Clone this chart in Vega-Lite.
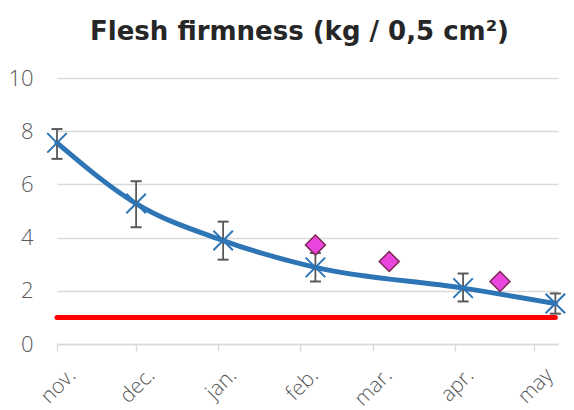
{
  "$schema": "https://vega.github.io/schema/vega-lite/v6.json",
  "width": 501,
  "height": 266,
  "autosize": {"type": "none"},
  "padding": {"left": 57, "top": 78, "right": 16, "bottom": 66},
  "background": "white",
  "title": {"text": "Flesh firmness (kg / 0,5 cm²)", "font": "DejaVu Sans", "fontSize": 26, "fontWeight": "bold", "color": "#262626", "anchor": "middle", "offset": 22, "dx": -8},
  "config": {
    "view": {"stroke": null},
    "axis": {"labelFont": "Open Sans", "labelFontSize": 22, "labelFontWeight": 300, "labelColor": "#595959"},
    "axisY": {"grid": true, "gridColor": "#D9D9D9", "gridWidth": 1.3, "domain": false, "ticks": false, "labelPadding": 24, "values": [0, 2, 4, 6, 8, 10]}
  },
  "datasets": {
    "main": [
      {"date": "2020-11-01", "v": 7.56, "lo": 6.96, "hi": 8.08},
      {"date": "2020-12-01", "v": 5.28, "lo": 4.39, "hi": 6.12},
      {"date": "2021-01-03", "v": 3.89, "lo": 3.17, "hi": 4.6},
      {"date": "2021-02-07", "v": 2.88, "lo": 2.35, "hi": 3.42},
      {"date": "2021-04-04", "v": 2.1, "lo": 1.6, "hi": 2.65},
      {"date": "2021-05-09", "v": 1.52, "lo": 1.14, "hi": 1.9}
    ],
    "other": [
      {"date": "2021-02-07", "v": 3.72},
      {"date": "2021-03-07", "v": 3.1},
      {"date": "2021-04-18", "v": 2.35}
    ],
    "threshold": [
      {"date": "2020-11-01", "v": 1},
      {"date": "2021-05-09", "v": 1}
    ]
  },
  "encoding": {
    "x": {
      "field": "date", "type": "temporal", "title": null,
      "scale": {"domain": [{"year": 2020, "month": 11, "date": 1, "utc": true}, {"year": 2021, "month": 5, "date": 10, "utc": true}]},
      "axis": {
        "values": [
          {"year": 2020, "month": 11, "date": 1, "utc": true},
          {"year": 2020, "month": 12, "date": 1, "utc": true},
          {"year": 2021, "month": 1, "date": 1, "utc": true},
          {"year": 2021, "month": 2, "date": 1, "utc": true},
          {"year": 2021, "month": 3, "date": 1, "utc": true},
          {"year": 2021, "month": 4, "date": 1, "utc": true},
          {"year": 2021, "month": 5, "date": 1, "utc": true}
        ],
        "labelExpr": "['jan.','feb.','mar.','apr.','may','jun.','jul.','aug.','sep.','oct.','nov.','dec.'][utcmonth(datum.value)]",
        "labelAngle": -45, "labelAlign": "right", "labelBaseline": "middle",
        "labelFontSize": 21,
        "labelPadding": 21, "labelOffset": 15,
        "grid": false, "domainColor": "#D9D9D9", "domainWidth": 1.3,
        "tickColor": "#D9D9D9", "tickSize": 7, "tickWidth": 1.3,
        "labelBound": false, "labelOverlap": false, "labelFlush": false
      }
    }
  },
  "layer": [
    {
      "data": {"name": "threshold"},
      "mark": {"type": "line", "color": "#FF0000", "strokeWidth": 5, "strokeCap": "round"},
      "encoding": {"y": {"field": "v", "type": "quantitative", "title": null, "scale": {"domain": [0, 10]}}}
    },
    {
      "data": {"name": "main"},
      "mark": {"type": "line", "color": "#2E75B6", "strokeWidth": 5, "interpolate": "monotone", "strokeCap": "round"},
      "encoding": {"y": {"field": "v", "type": "quantitative", "title": null}}
    },
    {
      "data": {"name": "main"},
      "mark": {"type": "rule", "color": "#595959", "strokeWidth": 1.8},
      "encoding": {"y": {"field": "lo", "type": "quantitative", "title": null}, "y2": {"field": "hi"}}
    },
    {
      "data": {"name": "main"},
      "mark": {"type": "tick", "orient": "horizontal", "color": "#595959", "size": 11, "thickness": 2, "opacity": 1},
      "encoding": {"y": {"field": "lo", "type": "quantitative", "title": null}}
    },
    {
      "data": {"name": "main"},
      "mark": {"type": "tick", "orient": "horizontal", "color": "#595959", "size": 11, "thickness": 2, "opacity": 1},
      "encoding": {"y": {"field": "hi", "type": "quantitative", "title": null}}
    },
    {
      "data": {"name": "main"},
      "mark": {"type": "point", "shape": "M-1,-1L1,1M-1,1L1,-1", "size": 380, "filled": false, "stroke": "#2E75B6", "strokeWidth": 2, "opacity": 1},
      "encoding": {"y": {"field": "v", "type": "quantitative", "title": null}}
    },
    {
      "data": {"name": "other"},
      "mark": {"type": "point", "shape": "diamond", "size": 400, "filled": true, "fill": "#EA45DD", "stroke": "#7E2553", "strokeWidth": 1.5, "opacity": 1},
      "encoding": {"y": {"field": "v", "type": "quantitative", "title": null}}
    }
  ]
}
